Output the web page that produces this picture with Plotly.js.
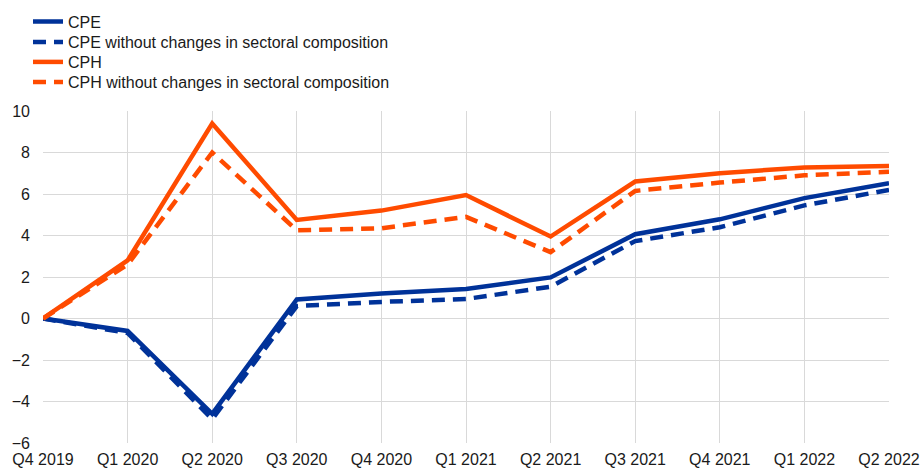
<!DOCTYPE html>
<html>
<head>
<meta charset="utf-8">
<script src="https://cdn.plot.ly/plotly-3.0.1.min.js"></script>
<style>html,body{margin:0;padding:0;background:#fff;}#chart{width:920px;height:468px;}</style>
</head>
<body>
<div id="chart"></div>
<script>
const categories = ["Q4 2019","Q1 2020","Q2 2020","Q3 2020","Q4 2020","Q1 2021","Q2 2021","Q3 2021","Q4 2021","Q1 2022","Q2 2022"];
const cpe      = [0, -0.6, -4.6, 0.92, 1.2, 1.42, 1.98, 4.06, 4.78, 5.8, 6.52];
const cpeFixed = [0, -0.7, -4.85, 0.6, 0.8, 0.94, 1.53, 3.73, 4.4, 5.45, 6.2];
const cph      = [0, 2.8, 9.4, 4.75, 5.2, 5.95, 3.95, 6.6, 7.0, 7.28, 7.35];
const cphFixed = [0, 2.6, 8.0, 4.25, 4.35, 4.9, 3.2, 6.15, 6.55, 6.9, 7.07];
const names = ["CPE", "CPE without changes in sectoral composition", "CPH", "CPH without changes in sectoral composition"];

const blue = "#003299", orange = "#ff4b00";
const dash = "13px,8px";
const traces = [
  {x: categories, y: cpe, name: names[0], mode: "lines", line: {color: blue, width: 4.5}, legend: "legend"},
  {x: categories, y: cpeFixed, name: names[1], mode: "lines", line: {color: blue, width: 4.5, dash: dash}, legend: "legend2"},
  {x: categories, y: cph, name: names[2], mode: "lines", line: {color: orange, width: 4.5}, legend: "legend3"},
  {x: categories, y: cphFixed, name: names[3], mode: "lines", line: {color: orange, width: 4.5, dash: dash}, legend: "legend4"}
];
const W = 920, H = 468;
function legendAt(yc) {
  return {xref: "container", yref: "container", x: 28 / W, xanchor: "left", y: 1 - yc / H, yanchor: "middle",
          bgcolor: "rgba(0,0,0,0)", font: {size: 16, color: "#1a1a1a"}, itemwidth: 30};
}
const layout = {
  width: W, height: H,
  margin: {l: 43, r: 31, t: 111, b: 25, autoexpand: false},
  paper_bgcolor: "#fff", plot_bgcolor: "#fff",
  font: {family: "Arial, 'Liberation Sans', sans-serif", size: 16, color: "#1a1a1a"},
  showlegend: true,
  legend: legendAt(21.7),
  legend2: legendAt(42),
  legend3: legendAt(62),
  legend4: legendAt(82),
  xaxis: {type: "category", range: [0, 10], showgrid: true, gridcolor: "#d9d9d9", gridwidth: 1,
          showline: false, zeroline: false, ticks: "", ticklabelstandoff: 5, tickfont: {size: 16}, fixedrange: true},
  yaxis: {range: [-6, 10], dtick: 2, tick0: 0, showgrid: true, gridcolor: "#d9d9d9", gridwidth: 1,
          zeroline: false, showline: false, ticks: "", ticklabelstandoff: 12, tickfont: {size: 16}, fixedrange: true}
};
Plotly.newPlot("chart", traces, layout, {displayModeBar: false, staticPlot: true});
</script>
</body>
</html>
